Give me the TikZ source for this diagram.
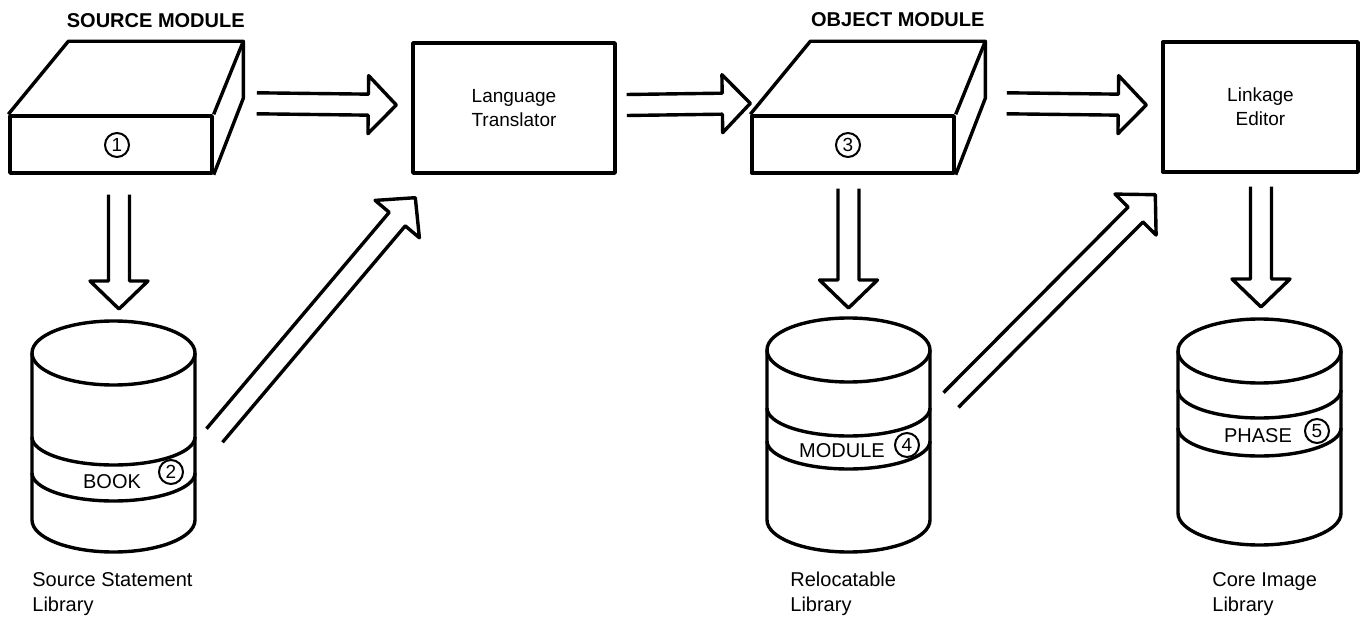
\documentclass[tikz,border=0pt]{standalone}
\usepackage{fontspec}
\setmainfont{Liberation Sans}
\usetikzlibrary{calc, positioning}

% hollow double-line arrow, #1 = start, #2 = tip
\newcommand{\fatarrow}[2]{%
	\coordinate (fa-s) at #1;
	\coordinate (fa-e) at #2;
	\coordinate (fa-b) at ($(fa-e)!14pt!(fa-s)$);
	\draw[ink]
		($(fa-s)!5.25pt!90:(fa-e)$) -- ($(fa-b)!5.25pt!90:(fa-e)$) --
		($(fa-b)!14.5pt!90:(fa-e)$) -- (fa-e) --
		($(fa-b)!14.5pt!-90:(fa-e)$) -- ($(fa-b)!5.25pt!-90:(fa-e)$) --
		($(fa-s)!5.25pt!-90:(fa-e)$);
}

% disk library, #1 = node, #2/#3 = drop of the band edges
\newcommand{\drum}[3]{%
	\draw[ink] (#1.north west) -- (#1.south west)
		arc[start angle=180, end angle=360, x radius=81.5, y radius=32] -- (#1.north east);
	\draw[ink] (#1.north) ellipse[x radius=81.5, y radius=32];
	\draw[ink] ($(#1.north west)+(0,-#2)$) arc[start angle=180, end angle=360, x radius=81.5, y radius=28];
	\draw[ink] ($(#1.north west)+(0,-#3)$) arc[start angle=180, end angle=360, x radius=81.5, y radius=28];
}

\begin{document}
\begin{tikzpicture}[
	  x=0.5pt, y=0.5pt,
	  ink/.style={line width=1.7pt, line join=round},
	  module/.style={
	  	rectangle,
	  	draw,
	  	ink,
	  	minimum width=101pt,
	  	minimum height=28.5pt,
	  	inner sep=0pt
	  },
	  proc/.style={
		  rectangle,
		  draw,
		  ink,
		  minimum width=101pt,
		  minimum height=65pt,
		  align=center,
		  font=\fontsize{9.5}{12}\selectfont
	  },
	  drumbox/.style={
		  rectangle,
		  minimum width=81.5pt,
		  inner sep=0pt,
		  outer sep=0pt
	  },
	  num/.style={
		  circle,
		  draw,
		  line width=1pt,
		  minimum size=12pt,
		  inner sep=0pt,
		  font=\fontsize{9.5}{9.5}\selectfont
	  },
	  title/.style={font=\bfseries\fontsize{10}{12}\selectfont},
	  band/.style={font=\fontsize{10}{12}\selectfont, inner sep=0pt},
	  caption/.style={
		  align=left,
		  inner sep=0pt,
		  anchor=north west,
		  font=\fontsize{10}{12.5}\selectfont
	  }]
	\useasboundingbox (0,0) rectangle (1361,617);

	% Modules
	\node[module] (srcmod) at (111,472.5) {};
	\draw[ink] (srcmod.north west) -- ++(60,73) coordinate (srcbl) -- ++(175,0) coordinate (srcbr) -- (srcmod.north east);
	\draw[ink] (srcbr) -- ++(0,-57) -- (srcmod.south east);
	\node[title] (srctitle) at ($(srcbl)!.5!(srcbr)+(0,21)$) {SOURCE MODULE};
	\node[num] (n1) at (117,472) {1};

	\node[module] (objmod) at (853,472.5) {};
	\draw[ink] (objmod.north west) -- ++(60,73) coordinate (objbl) -- ++(175,0) coordinate (objbr) -- (objmod.north east);
	\draw[ink] (objbr) -- ++(0,-57) -- (objmod.south east);
	\node[title] (objtitle) at ($(objbl)!.5!(objbr)+(0,22)$) {OBJECT MODULE};
	\node[num] (n3) at (848,472) {3};

	% Programs
	\node[proc] (lt) at (514,509) {Language\\Translator};
	\node[proc, minimum width=97.5pt] (le) at (1260.5,510) {Linkage\\Editor};

	% Libraries
	\node[drumbox, minimum height=83.5pt] (srclib) at (113.5,180.5) {};
	\drum{srclib}{84}{120}
	\node[band] (book) at (112,135) {BOOK};
	\node[num] (n2) at (171,145) {2};
	\node[caption] (srccap) at ($(srclib.south west)+(0,-52)$) {Source Statement\\Library};

	\node[drumbox, minimum height=85pt] (rellib) at (848.5,182) {};
	\drum{rellib}{58}{91}
	\node[band] (modtxt) at (842,166) {MODULE};
	\node[num] (n4) at (907,172) {4};
	\node[caption] (relcap) at ($(rellib.south west)+(23,-52)$) {Relocatable\\Library};

	\node[drumbox, minimum height=81pt] (corelib) at (1259.5,185) {};
	\drum{corelib}{39}{77}
	\node[band] (phase) at (1258,181) {PHASE};
	\node[num] (n5) at (1317,186) {5};
	\node[caption] (corecap) at ($(corelib.south west)+(34,-59)$) {Core Image\\Library};

	% Flow
	\fatarrow{($(srcmod.north east)+(43,11)$)}{($(lt.west)+(-15,3)$)}
	\fatarrow{($(lt.east)+(10,3)$)}{($(objmod.north west)+(0,11)$)}
	\fatarrow{($(objmod.north east)+(51,11)$)}{($(le.west)+(-15,2)$)}
	\fatarrow{($(srcmod.south)+(8,-20)$)}{($(srclib.north)+(5.5,44)$)}
	\fatarrow{($(objmod.south)+(-4.5,-14)$)}{($(rellib.north)+(0,42)$)}
	\fatarrow{($(le.south)+(0.5,-13)$)}{($(corelib.north)+(1.5,44)$)}
	\fatarrow{($(srclib.east)+(19.5,1)$)}{($(lt.south west)+(4,-23)$)}
	\fatarrow{($(rellib.east)+(21,35)$)}{($(le.south west)+(-6,-21)$)}
\end{tikzpicture}
\end{document}
